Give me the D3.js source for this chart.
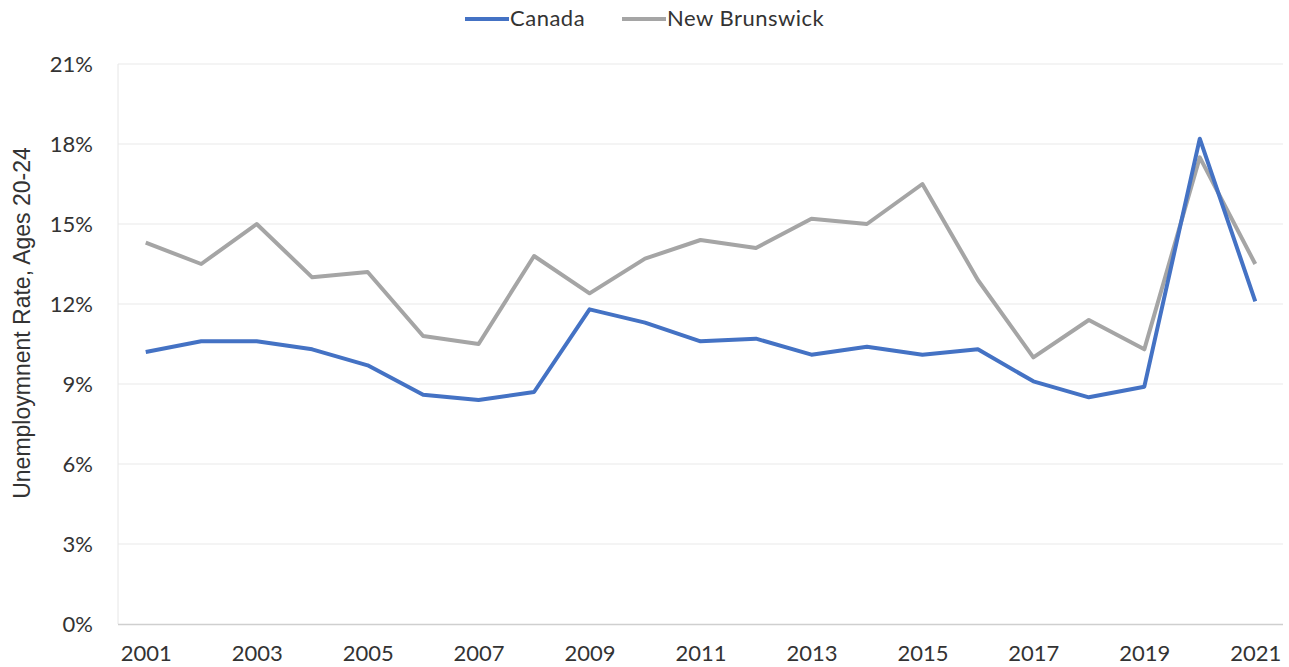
<!DOCTYPE html>
<html>
<head>
<meta charset="utf-8">
<script src="https://cdn.jsdelivr.net/npm/d3@7"></script>
<style>
  body { margin: 0; background: #fff; }
  text { font-family: Lato, "Noto Sans", sans-serif; fill: #333; }
</style>
</head>
<body>
<div id="chart"></div>
<script>
// data
const years = [2001, 2002, 2003, 2004, 2005, 2006, 2007, 2008, 2009, 2010,
               2011, 2012, 2013, 2014, 2015, 2016, 2017, 2018, 2019, 2020, 2021]
const canada = [10.2, 10.6, 10.6, 10.3, 9.7, 8.6, 8.4, 8.7, 11.8, 11.3,
                10.6, 10.7, 10.1, 10.4, 10.1, 10.3, 9.1, 8.5, 8.9, 18.2, 12.1]
const newBrunswick = [14.3, 13.5, 15.0, 13.0, 13.2, 10.8, 10.5, 13.8, 12.4, 13.7,
                      14.4, 14.1, 15.2, 15.0, 16.5, 12.9, 10.0, 11.4, 10.3, 17.5, 13.5]
const yTicks = [0, 3, 6, 9, 12, 15, 18, 21]
const xTickYears = years.filter((d, i) => i % 2 == 0)

const seriesList = [
    {name: "Canada", values: canada, colour: "#4472C4"},
    {name: "New Brunswick", values: newBrunswick, colour: "#A5A5A5"}
]

const width = 1289, height = 667
const margin = {top: 64, right: 6, bottom: 43, left: 118}

let svg = d3.select("#chart").append("svg")
    .attr("width", width)
    .attr("height", height)

let x = d3.scalePoint()
    .domain(years)
    .range([margin.left, width - margin.right])
    .padding(0.5)

let y = d3.scaleLinear()
    .domain([0, 21])
    .range([height - margin.bottom, margin.top])

// Gridlines
svg.append("g")
    .selectAll("line")
    .data(yTicks.filter(d => d > 0))
    .enter()
    .append("line")
    .attr("x1", margin.left)
    .attr("x2", width - margin.right)
    .attr("y1", d => y(d))
    .attr("y2", d => y(d))
    .attr("stroke", "#f0f0f0")
    .attr("stroke-width", 1.5)

// Left axis line
svg.append("line")
    .attr("x1", margin.left).attr("x2", margin.left)
    .attr("y1", y(21)).attr("y2", y(0))
    .attr("stroke", "#e6e6e6")

// Y axis
let yAxis = d3.axisLeft(y)
    .tickValues(yTicks)
    .tickFormat(d => d + "%")
    .tickSize(0)
    .tickPadding(25)

svg.append("g")
    .attr("transform", `translate(${margin.left},0)`)
    .call(yAxis)
    .call(g => g.select(".domain").remove())
    .selectAll("text")
    .style("font-size", "22px")
    .style("font-family", "Lato, 'Noto Sans', sans-serif")
    .attr("fill", "#333")

// X axis
let xAxis = d3.axisBottom(x)
    .tickValues(xTickYears)
    .tickSize(0)
    .tickPadding(21)

svg.append("g")
    .attr("transform", `translate(0,${y(0)})`)
    .call(xAxis)
    .call(g => g.select(".domain")
        .attr("d", `M${margin.left},0.5H${width - margin.right}`)
        .attr("stroke", "#cfcfcf")
        .attr("stroke-width", 1.5))
    .selectAll("text")
    .style("font-size", "22px")
    .style("font-family", "Lato, 'Noto Sans', sans-serif")
    .attr("fill", "#333")

// Y axis title
svg.append("text")
    .text("Unemploymnent Rate, Ages 20-24")
    .attr("transform", "translate(30, 323) rotate(-90)")
    .attr("text-anchor", "middle")
    .style("font-family", "'Liberation Sans', Arial, sans-serif")
    .style("font-size", "23px")

// Lines
let line = d3.line()
    .x((d, i) => x(years[i]))
    .y(d => y(d))

svg.append("g")
    .selectAll("path")
    .data(seriesList.slice().reverse())
    .enter()
    .append("path")
    .attr("d", d => line(d.values))
    .attr("fill", "none")
    .attr("stroke", d => d.colour)
    .attr("stroke-width", 4)
    .attr("stroke-linejoin", "round")

// Legend
let legend = svg.append("g").attr("transform", "translate(465, 19)")
let legendX = [0, 157]
let items = legend.selectAll("g")
    .data(seriesList)
    .enter()
    .append("g")
    .attr("transform", (d, i) => `translate(${legendX[i]}, 0)`)

items.append("line")
    .attr("x1", 0).attr("x2", 44)
    .attr("y1", 0).attr("y2", 0)
    .attr("stroke", d => d.colour)
    .attr("stroke-width", 4)

items.append("text")
    .text(d => d.name)
    .attr("x", 45)
    .attr("y", 7)
    .style("font-size", "22px")
    .style("letter-spacing", "0.5px")
</script>
</body>
</html>
